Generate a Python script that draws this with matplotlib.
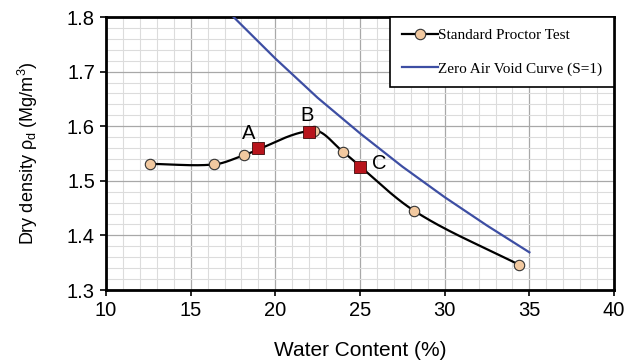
import numpy as np
import matplotlib
matplotlib.use("Agg")
import matplotlib.pyplot as plt
from matplotlib.ticker import MultipleLocator, FormatStrFormatter

plt.rcParams['font.family'] = ['Liberation Sans', 'DejaVu Sans']
plt.rcParams['mathtext.fontset'] = 'custom'
plt.rcParams['mathtext.rm'] = 'Liberation Sans'
plt.rcParams['mathtext.it'] = 'Liberation Sans:italic'

# Standard Proctor test points
water = [12.6, 16.4, 18.15, 22.3, 24.0, 28.2, 34.4]
density = [1.531, 1.530, 1.547, 1.592, 1.553, 1.445, 1.346]

# marked points A, B, C
mark_labels = ["A", "B", "C"]
mark_water = [19.0, 22.0, 25.0]
mark_density = [1.560, 1.589, 1.526]

# zero air void curve (S=1)
zav_water = [17.5, 20.0, 22.5, 25.0, 27.5, 30.0, 32.5, 35.0]
zav_density = [1.801, 1.724, 1.652, 1.587, 1.526, 1.470, 1.418, 1.369]


def smooth(xs, ys, n=40):
    # cubic hermite through the points (smoothed line)
    xs = np.asarray(xs, float)
    ys = np.asarray(ys, float)
    m = np.zeros_like(ys)
    m[1:-1] = (ys[2:] - ys[:-2]) / (xs[2:] - xs[:-2])
    m[0] = (ys[1] - ys[0]) / (xs[1] - xs[0])
    m[-1] = (ys[-1] - ys[-2]) / (xs[-1] - xs[-2])
    out_x, out_y = [], []
    t = np.linspace(0, 1, n)
    for i in range(len(xs) - 1):
        h = xs[i + 1] - xs[i]
        h00 = 2 * t ** 3 - 3 * t ** 2 + 1
        h10 = t ** 3 - 2 * t ** 2 + t
        h01 = -2 * t ** 3 + 3 * t ** 2
        h11 = t ** 3 - t ** 2
        out_x.extend(xs[i] + t * h)
        out_y.extend(h00 * ys[i] + h10 * h * m[i] + h01 * ys[i + 1] + h11 * h * m[i + 1])
    return out_x, out_y


fig = plt.figure(figsize=(6.37, 3.63), dpi=100)
ax = fig.add_axes([0.1664, 0.2011, 0.7976, 0.752])

sx, sy = smooth(water, density)
ax.plot(sx, sy, color="black", lw=1.6, zorder=3)
ax.plot(water, density, "o", ms=7.5, mfc="#f2c9a0", mec="#333333", mew=0.8, zorder=4)
ax.plot([], [], "-o", color="black", lw=1.6, ms=7.5, mfc="#f2c9a0", mec="#333333",
        mew=0.8, label="Standard Proctor Test")
ax.plot(zav_water, zav_density, color="#3d4ea3", lw=1.6, zorder=3,
        label="Zero Air Void Curve (S=1)")

ax.plot(mark_water, mark_density, "s", ms=8, mfc="#b8141c", mec="#3a0a0a", mew=0.6, zorder=5)
offsets = [(-0.55, 0.0275), (-0.15, 0.0315), (1.12, 0.0066)]
for lab, x, y, (dx, dy) in zip(mark_labels, mark_water, mark_density, offsets):
    ax.text(x + dx, y + dy, lab, fontsize=14.5, ha="center", va="center", zorder=6)

ax.set_xlim(10, 40)
ax.set_ylim(1.3, 1.8)
ax.xaxis.set_major_locator(MultipleLocator(5))
ax.xaxis.set_minor_locator(MultipleLocator(1))
ax.yaxis.set_major_locator(MultipleLocator(0.1))
ax.yaxis.set_minor_locator(MultipleLocator(0.02))
ax.grid(which="major", color="#a8a8a8", lw=0.9)
ax.grid(which="minor", color="#dcdcdc", lw=0.8)
ax.set_axisbelow(True)
ax.tick_params(which="major", length=4, width=1.2, labelsize=14.5, direction="out", pad=4)
ax.tick_params(which="minor", length=0)
ax.yaxis.set_major_formatter(FormatStrFormatter("%.1f"))
for s in ax.spines.values():
    s.set_linewidth(2.0)

ax.set_xlabel("Water Content (%)", fontsize=15)
ax.set_ylabel(r"Dry density ρ$_\mathregular{d}$ (Mg/m$^\mathregular{3}$)", fontsize=13)
ax.xaxis.label.set_va("center")
ax.yaxis.label.set_va("center")
ax.xaxis.set_label_coords(0.5, -0.22)
ax.yaxis.set_label_coords(-0.1535, 0.5)

leg = ax.legend(loc="upper right", prop={"family": "Liberation Serif", "size": 11},
                frameon=True, fancybox=False, edgecolor="black", borderpad=0.75,
                labelspacing=1.3, handlelength=2.35, handletextpad=0.05,
                borderaxespad=0.0)
leg.get_frame().set_linewidth(1.2)
leg.get_frame().set_alpha(1)

fig.savefig("out.png", dpi=100)
